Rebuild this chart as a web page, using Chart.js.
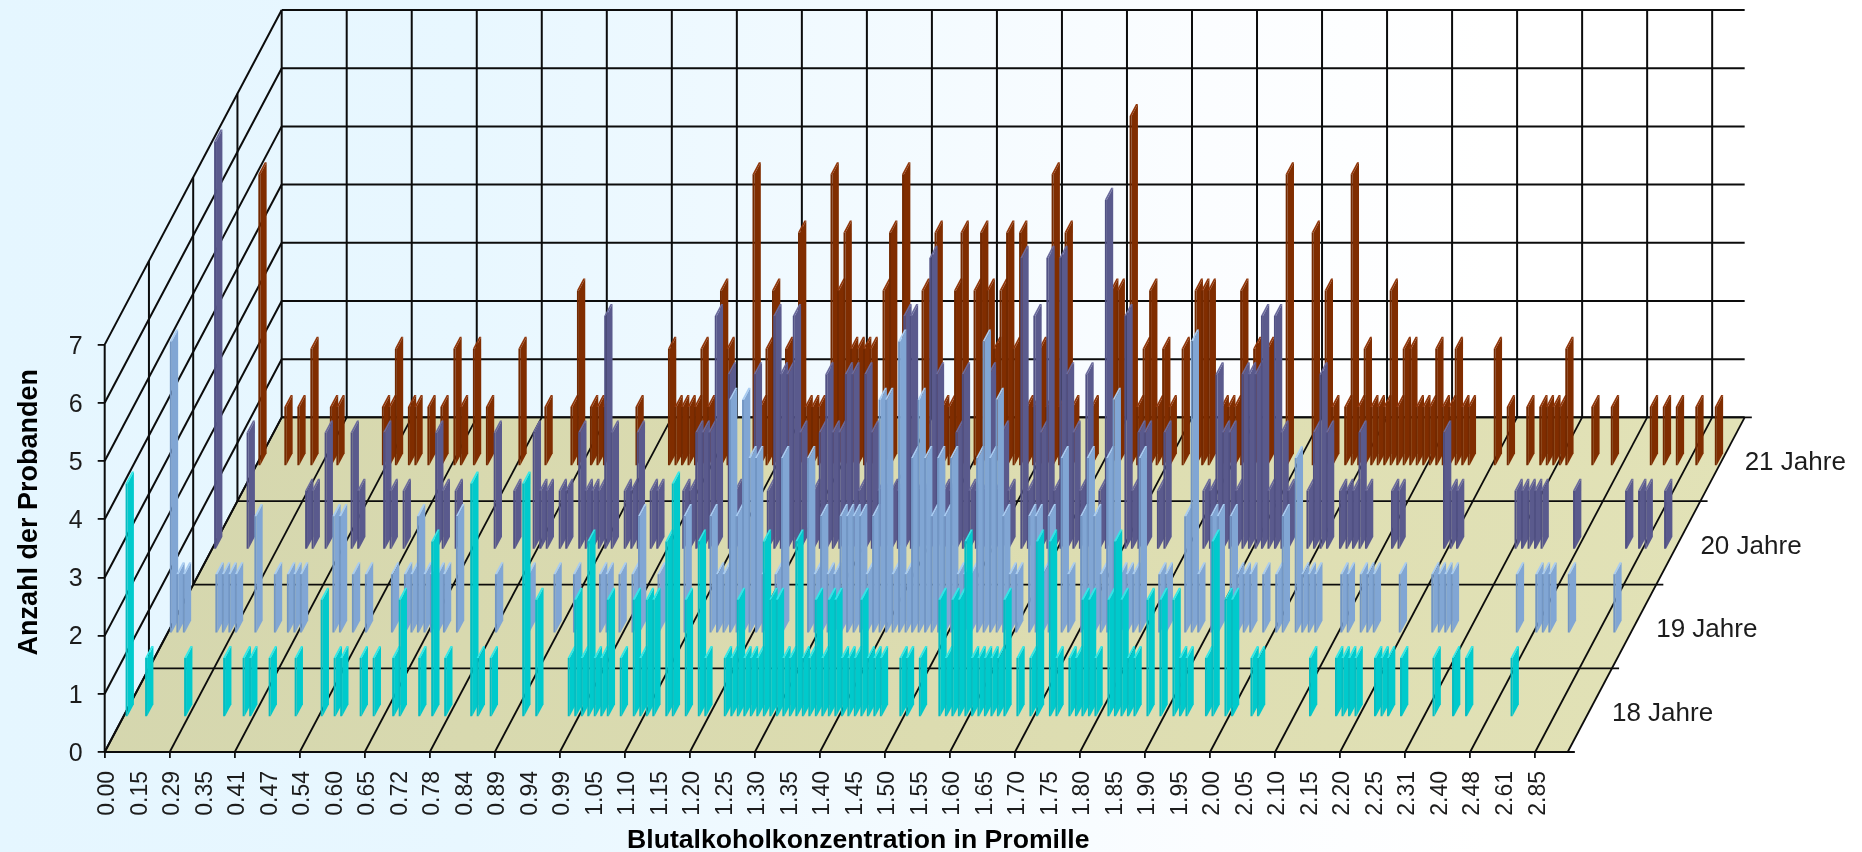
<!DOCTYPE html>
<html lang="de">
<head>
<meta charset="utf-8">
<title>Blutalkoholkonzentration</title>
<script src="https://cdn.jsdelivr.net/npm/chart.js@4/dist/chart.umd.js"></script>
<style>
  html, body { margin: 0; padding: 0; }
  body { width: 1862px; height: 852px; overflow: hidden; background: linear-gradient(90deg, #e5f6ff 0%, #e8f7ff 25%, #fbfdff 65%, #ffffff 80%); }
  canvas { display: block; }
</style>
</head>
<body>
<canvas id="chart" width="1862" height="852"></canvas>
<script>
// tick labels, one per 5 categories
const tickLabels = ["0.00","0.15","0.29","0.35","0.41","0.47","0.54","0.60","0.65","0.72","0.78","0.84","0.89","0.94","0.99",
  "1.05","1.10","1.15","1.20","1.25","1.30","1.35","1.40","1.45","1.50","1.55","1.60","1.65","1.70","1.75","1.80","1.85",
  "1.90","1.95","2.00","2.05","2.10","2.15","2.20","2.25","2.31","2.40","2.48","2.61","2.85"];
const yTicks = [0, 1, 2, 3, 4, 5, 6, 7];
const seriesNames = ["18 Jahre", "19 Jahre", "20 Jahre", "21 Jahre"];

// [category index, Anzahl] - categories without an entry have no proband
const age18 = [[0,4],[3,1],[9,1],[15,1],[18,1],[19,1],[22,1],[26,1],[30,2],[32,1],[33,1],[36,1],[38,1],[41,1],[42,2],[45,1],[47,3],[49,1],
  [53,4],[54,1],[56,1],[61,4],[63,2],[68,1],[69,2],[70,1],[71,3],[72,1],[73,1],[74,2],[76,1],[78,2],[79,1],[80,2],[81,2],[83,3],[84,4],[86,2],[88,3],[89,1],
  [92,1],[93,1],[94,2],[95,1],[96,1],[97,1],[98,3],[99,2],[100,2],[101,1],[102,1],[103,3],[104,1],[105,1],[106,2],[107,1],[108,2],[109,2],[110,1],[111,1],[112,1],[113,2],[114,1],[115,1],
  [116,1],[119,1],[120,1],[122,1],[125,2],[126,1],[127,2],[128,2],[129,3],[130,1],[131,1],[132,1],[133,1],[134,1],[135,2],[137,1],[139,1],[140,3],[142,3],[143,1],
  [145,1],[146,1],[147,2],[148,2],[149,1],[151,2],[152,3],[153,2],[154,1],[155,1],[157,2],[159,2],[161,2],[162,1],[163,1],[166,1],[167,3],[169,2],[170,2],[173,1],[174,1],
  [182,1],[186,1],[187,1],[188,1],[189,1],[192,1],[193,1],[194,1],[196,1],[201,1],[204,1],[206,1],[213,1]];
const age19 = [[0,5],[1,1],[2,1],[7,1],[8,1],[9,1],[10,1],[13,2],[16,1],[18,1],[19,1],[20,1],[25,2],[26,2],[28,1],[30,1],[34,1],[36,1],[37,1],[38,2],[39,1],[40,1],[41,1],[42,1],[44,2],
  [50,1],[55,1],[59,1],[62,1],[66,1],[67,1],[69,1],[71,1],[72,2],[75,1],[79,2],[83,2],[84,1],[85,1],[86,4],[87,2],[88,4],[89,3],[90,3],[91,1],[93,1],[94,3],[98,3],[99,1],[100,2],
  [101,1],[102,1],[103,2],[104,2],[105,2],[106,2],[107,1],[108,2],[109,4],[110,4],[111,1],[112,5],[113,1],[114,3],[115,4],[116,3],[117,2],[118,3],[119,2],[120,3],[121,1],[122,1],[123,1],
  [124,3],[125,5],[126,3],[127,4],[128,2],[129,1],[130,1],[132,2],[133,2],[134,1],[135,2],[137,3],[138,1],[140,2],[141,3],[142,2],[143,1],[144,3],[145,4],[146,1],[147,1],[148,1],[149,3],
  [152,1],[153,1],[156,2],[157,5],[158,1],[160,2],[161,2],[163,2],[164,1],[165,1],[166,1],[168,1],[170,1],[171,2],[173,3],[174,1],[175,1],[176,1],[180,1],[181,1],[183,1],[184,1],[185,1],
  [189,1],[194,1],[195,1],[196,1],[197,1],[207,1],[210,1],[211,1],[212,1],[215,1],[222,1]];
const age20 = [[0,7],[5,2],[14,1],[15,1],[17,2],[21,2],[22,1],[26,2],[27,1],[29,1],[34,2],[35,1],[37,1],[43,2],[46,1],[49,2],[50,1],[51,1],[53,1],[54,1],[56,2],[57,1],[58,1],[59,1],[60,4],[61,2],
  [63,1],[64,1],[65,2],[67,1],[68,1],[72,1],[73,1],[74,2],[75,2],[76,2],[77,4],[79,3],[80,1],[83,3],[85,1],[86,4],[87,3],[88,3],[89,4],[90,2],[92,1],[93,2],[94,3],[95,2],[96,2],[97,3],[98,3],[99,1],
  [100,3],[101,2],[102,1],[103,1],[104,1],[105,1],[106,4],[107,4],[108,1],[109,1],[110,5],[111,3],[112,1],[113,1],[114,2],[115,3],[116,1],[117,1],[118,1],[119,3],[120,1],[121,2],[122,1],
  [124,5],[125,1],[126,4],[127,2],[128,5],[129,1],[130,5],[131,3],[132,2],[133,1],[134,3],[136,1],[137,6],[140,4],[141,1],[142,2],[143,2],[145,1],[146,2],
  [152,1],[153,1],[154,3],[155,2],[156,2],[157,1],[158,3],[159,3],[160,3],[161,4],[162,1],[163,4],[164,2],[165,1],[168,1],[169,2],[170,3],[171,2],[173,1],[174,1],[175,1],[176,2],[177,1],
  [181,1],[182,1],[189,2],[190,1],[191,1],[200,1],[201,1],[202,1],[203,1],[204,1],[209,1],[217,1],[219,1],[220,1],[223,1]];
const age21 = [[0,5],[4,1],[6,1],[8,2],[11,1],[12,1],[19,1],[20,1],[21,2],[23,1],[24,1],[26,1],[28,1],[30,2],[31,1],[33,2],[35,1],[40,2],[44,1],[48,1],[49,3],[51,1],[52,1],[53,1],[58,1],
  [63,2],[64,1],[65,1],[66,1],[67,1],[68,2],[69,1],[71,3],[72,2],[76,5],[77,1],[78,2],[79,3],[81,2],[83,4],[84,1],[85,1],[86,1],[88,5],[89,3],[90,4],[91,2],[92,2],[93,2],[94,2],[96,3],[97,4],[99,5],
  [102,3],[104,4],[105,1],[106,1],[107,3],[108,4],[110,3],[111,4],[112,3],[113,2],[114,3],[115,4],[116,2],[117,4],[118,1],[119,1],[120,2],[121,1],[122,5],[123,1],[124,4],[125,1],[128,1],
  [131,3],[132,3],[134,6],[135,1],[136,2],[137,3],[138,1],[139,2],[140,1],[142,2],[144,3],[145,3],[146,3],[148,1],[149,1],[150,1],[151,3],[153,2],[155,2],[158,5],[162,4],[164,3],[165,1],
  [167,1],[168,5],[169,1],[170,2],[171,1],[172,1],[173,1],[174,3],[175,1],[176,2],[177,2],[178,1],[179,1],[180,1],[181,2],[182,1],[183,1],[184,2],[185,1],[186,1],[190,2],[192,1],[195,1],
  [197,1],[198,1],[199,1],[200,1],[201,2],[205,1],[208,1],[214,1],[216,1],[218,1],[221,1],[224,1]];

const CATS = 225;
const MAX_Y = 7;
// oblique depth of the floor, in axis units
const DEPTH_X = 27.22;
const DEPTH_Y = 5.75;
// bar shape in axis units
const BAR_W = 0.3;
const BAR_SKEW = 0.0359;
const BAR_START = 0.3;

const rows = [
  { data: age18, front: "#06bcc0", side: "#00cacc", top: "#30e8e8" },
  { data: age19, front: "#7296c4", side: "#81a6d4", top: "#a8ccf2" },
  { data: age20, front: "#505083", side: "#5a5a8d", top: "#6a6a9c" },
  { data: age21, front: "#732900", side: "#802d00", top: "#90360a" }
];

// category + depth (0 front, 1 back) + value -> point on the linear axes
const pt = (c, t, v) => ({ x: c + DEPTH_X * t, y: DEPTH_Y * t + v });

function lineDs(a, b, width = 2) {
  return { data: [a, b], showLine: true, pointRadius: 0, borderColor: "#0c0c0c", borderWidth: width, fill: false, clip: false };
}

function polyDs(points, color) {
  return { data: points, showLine: true, pointRadius: 0, borderWidth: 0, borderColor: "transparent", backgroundColor: color, fill: "shape", clip: false };
}

function buildGrid() {
  const lines = [];
  for (const v of yTicks) {
    lines.push(lineDs(pt(0, 0, v), pt(0, 1, v)));
    lines.push(lineDs(pt(0, 1, v), pt(CATS, 1, v)));
  }
  for (const t of [0, 0.25, 0.5, 0.75, 1]) {
    lines.push(lineDs(pt(0, t, 0), pt(0, t, MAX_Y)));
    if (t > 0) lines.push(lineDs(pt(0, t, 0), pt(CATS + 1.1, t, 0), 1.8));
  }
  for (let c = 0; c < CATS; c += 10) {
    lines.push(lineDs(pt(c, 0, 0), pt(c, 1, 0), 1.8));
    if (c > 0) lines.push(lineDs(pt(c, 1, 0), pt(c, 1, MAX_Y)));
  }
  lines.push(lineDs(pt(CATS, 0, 0), pt(CATS, 1, 0), 1.8));
  lines.push(lineDs(pt(0, 0, 0), pt(CATS + 1.1, 0, 0), 2.2));
  return lines;
}

function buildBars() {
  const faces = [];
  for (let r = rows.length - 1; r >= 0; r--) {
    const row = rows[r];
    const t0 = (r + 0.5) / rows.length - BAR_SKEW / 2;
    const t1 = t0 + BAR_SKEW;
    for (const [cat, val] of row.data) {
      const a = cat + BAR_START;
      const b = a + BAR_W;
      faces.push(polyDs([pt(b, t0, 0), pt(b, t1, 0), pt(b, t1, val), pt(b, t0, val)], row.side));
      faces.push(polyDs([pt(a, t0, val), pt(b, t0, val), pt(b, t1, val), pt(a, t1, val)], row.top));
      faces.push(polyDs([pt(a, t0, 0), pt(b, t0, 0), pt(b, t0, val), pt(a, t0, val)], row.front));
    }
  }
  return faces;
}

const canvas = document.getElementById("chart");
const ctx = canvas.getContext("2d");

const floorFill = ctx.createLinearGradient(0, 0, 1862, 0);
floorFill.addColorStop(0, "#d4d6ae");
floorFill.addColorStop(0.5, "#dcdcb0");
floorFill.addColorStop(1, "#e3e3b8");

const floor = polyDs([pt(0, 0, 0), pt(CATS, 0, 0), pt(CATS, 1, 0), pt(0, 1, 0)], floorFill);

// chart.js paints the first dataset last, so back-to-front list gets reversed
const datasets = [floor, ...buildGrid(), ...buildBars()].reverse();

const textPlugin = {
  id: "freeText",
  afterDraw(chart) {
    const { x, y } = chart.scales;
    const c = chart.ctx;
    c.save();
    c.fillStyle = "#1c1c1c";
    c.textBaseline = "middle";
    c.textAlign = "left";
    c.font = "26px 'Liberation Sans'";
    seriesNames.forEach((name, r) => {
      const p = pt(CATS + 3.4, (r + 0.5) / seriesNames.length, -0.06);
      c.fillText(name, x.getPixelForValue(p.x), y.getPixelForValue(p.y));
    });
    c.fillStyle = "#000";
    c.textAlign = "center";
    c.font = "bold 26.6px 'Liberation Sans'";
    c.fillText("Blutalkoholkonzentration in Promille", x.getPixelForValue(115.9), y.getPixelForValue(-1.53));
    c.font = "bold 27px 'Liberation Sans'";
    c.translate(x.getPixelForValue(-11.6), y.getPixelForValue(4.12));
    c.rotate(-Math.PI / 2);
    c.fillText("Anzahl der Probanden", 0, 0);
    c.restore();
  }
};

new Chart(ctx, {
  type: "scatter",
  data: { datasets },
  plugins: [textPlugin],
  options: {
    responsive: false,
    animation: false,
    events: [],
    layout: { padding: { top: 10, right: 109, left: 0, bottom: 0 } },
    plugins: { legend: { display: false }, tooltip: { enabled: false }, title: { display: false } },
    scales: {
      x: {
        type: "linear",
        min: 0,
        max: 253.5,
        afterBuildTicks(s) { s.ticks = tickLabels.map((_, i) => ({ value: i * 5 })); },
        afterFit(s) { s.height = 100; s.paddingLeft = 0; s.paddingRight = 0; },
        border: { display: false },
        grid: {
          drawOnChartArea: false,
          drawTicks: true,
          tickLength: 6,
          lineWidth: 1.8,
          color: (c) => (c.tick && c.tick.value % 10 === 0 ? "#101010" : "transparent")
        },
        ticks: {
          autoSkip: false,
          minRotation: 90,
          maxRotation: 90,
          padding: 13,
          labelOffset: 3,
          color: "#1c1c1c",
          font: { family: "'Liberation Sans'", size: 23 },
          callback: (v) => tickLabels[v / 5]
        }
      },
      y: {
        type: "linear",
        min: 0,
        max: MAX_Y + DEPTH_Y,
        afterBuildTicks(s) { s.ticks = yTicks.map((v) => ({ value: v })); },
        afterFit(s) { s.width = 104.7; s.paddingTop = 0; s.paddingBottom = 0; },
        border: { display: false },
        grid: { drawOnChartArea: false, drawTicks: true, tickLength: 7, lineWidth: 1.8, color: "#101010" },
        ticks: {
          autoSkip: false,
          padding: 15,
          labelOffset: 2,
          color: "#1c1c1c",
          font: { family: "'Liberation Sans'", size: 25 },
          callback: (v) => v
        }
      }
    }
  }
});
</script>
</body>
</html>
